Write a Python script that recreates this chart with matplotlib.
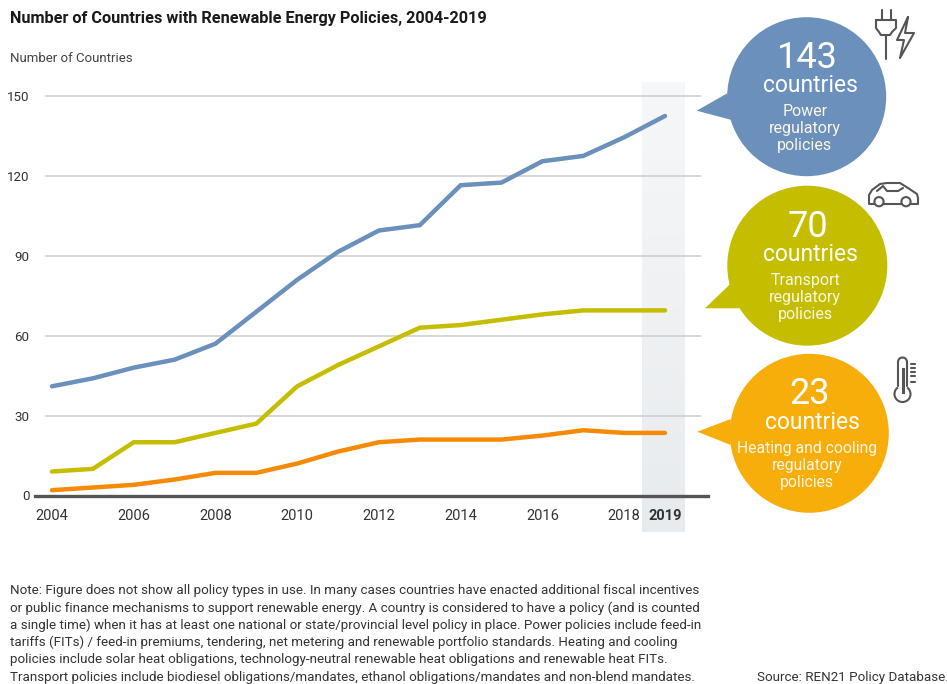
# -*- coding: utf-8 -*-
"""Number of countries with renewable energy policies, 2004-2019"""

import numpy as np
import matplotlib
matplotlib.use("Agg")
import matplotlib.pyplot as plt
from matplotlib.patches import Circle, Polygon, Arc
from matplotlib.transforms import ScaledTranslation

plt.rcParams["font.family"] = ["Roboto", "DejaVu Sans"]

years = list(range(2004, 2020))
power = [41, 44, 48, 51, 57, 69, 81, 91.5, 99.5, 101.5, 116.5, 117.5, 125.5, 127.5, 134.5, 142.5]
transport = [9, 10, 20, 20, 23.5, 27, 41, 49, 56, 63, 64, 66, 68, 69.5, 69.5, 69.5]
heating = [2, 3, 4, 6, 8.5, 8.5, 12, 16.5, 20, 21, 21, 21, 22.5, 24.5, 23.5, 23.5]

y_ticks = [0, 30, 60, 90, 120, 150]
x_ticks = [2004, 2006, 2008, 2010, 2012, 2014, 2016, 2018]

title = "Number of Countries with Renewable Energy Policies, 2004-2019"
y_title = "Number of Countries"
note_lines = [
    "Note: Figure does not show all policy types in use. In many cases countries have enacted additional fiscal incentives",
    "or public finance mechanisms to support renewable energy. A country is considered to have a policy (and is counted",
    "a single time) when it has at least one national or state/provincial level policy in place. Power policies include feed-in",
    "tariffs (FITs) / feed-in premiums, tendering, net metering and renewable portfolio standards. Heating and cooling",
    "policies include solar heat obligations, technology-neutral renewable heat obligations and renewable heat FITs.",
    "Transport policies include biodiesel obligations/mandates, ethanol obligations/mandates and non-blend mandates.",
]
source = "Source: REN21 Policy Database."

BLUE = "#6a90bb"
OLIVE = "#c5bd00"
AMBER = "#f8ae0a"
ORANGE = "#f58a07"
ICON = "#555555"
W, H = 947, 684

fig = plt.figure(figsize=(W / 100, H / 100), dpi=100, facecolor="white")

# ------------------------------------------------------------
# overlay in pixel coordinates for band, bubbles, icons and notes
# ------------------------------------------------------------
bg = fig.add_axes([0, 0, 1, 1], zorder=0)
bg.set_xlim(0, W)
bg.set_ylim(H, 0)
bg.axis("off")

# highlight band for 2019, fading out towards the top
grad = np.linspace(0, 1, 100).reshape(-1, 1)
cmap = matplotlib.colors.LinearSegmentedColormap.from_list("band", ["#f6f7f8", "#e8ebee"])
bg.imshow(grad, extent=[642, 685, 532, 82], cmap=cmap, aspect="auto", zorder=1)
bg.set_xlim(0, W)
bg.set_ylim(H, 0)

# ------------------------------------------------------------
# line chart
# ------------------------------------------------------------
px_l, px_r, px_t, px_b = 35, 708, 82, 495.5
ax = fig.add_axes([px_l / W, 1 - px_b / H, (px_r - px_l) / W, (px_b - px_t) / H], zorder=1)
ax.patch.set_alpha(0)
x_per_px = 15 / (665 - 52)
y_per_px = 150 / (495.5 - 96)
ax.set_xlim(2004 - (52 - px_l) * x_per_px, 2019 + (px_r - 665) * x_per_px)
ax.set_ylim(0, (px_b - px_t) * y_per_px)

for s in ["top", "right", "left"]:
    ax.spines[s].set_visible(False)
ax.spines["bottom"].set_linewidth(2.4)
ax.spines["bottom"].set_color("#555555")

for v in y_ticks[1:]:
    ax.plot([2003.85, 2019.85], [v, v], color="#cfcfcf", lw=1.2, zorder=1)

for series, col in [(power, BLUE), (transport, OLIVE), (heating, ORANGE)]:
    ax.plot(years, series, color=col, lw=3.2, solid_capstyle="round",
            solid_joinstyle="miter", zorder=3, clip_on=False)

ax.set_yticks(y_ticks)
ax.set_xticks(x_ticks + [2019])
ax.set_xticklabels([str(v) for v in x_ticks] + ["2019"], fontsize=10.5, color="#333333")
last = ax.get_xticklabels()[-1]
last.set_fontweight("bold")
last.set_transform(last.get_transform() + ScaledTranslation(5 / 100, 0, fig.dpi_scale_trans))
ax.set_yticklabels([str(v) for v in y_ticks], fontsize=9.6, color="#333333")
ax.tick_params(axis="both", length=0)
ax.tick_params(axis="x", pad=9.5)
ax.tick_params(axis="y", pad=4)

# ------------------------------------------------------------
# speech bubbles
# ------------------------------------------------------------
bubbles = [
    (806.7, 96.7, 79.5, BLUE, [(696.7, 110.7), (727.3, 93.3), (731.7, 120)],
     "143", "Power\nregulatory\npolicies", 11.5),
    (807.3, 265.7, 80, OLIVE, [(705, 308.3), (730, 284.3), (740.7, 308.3)],
     "70", "Transport\nregulatory\npolicies", 11.5),
    (809.3, 433.3, 79.5, AMBER, [(697.3, 431.7), (730.7, 419), (730.7, 445)],
     "23", "Heating and cooling\nregulatory\npolicies", 11.3),
]
for cx, cy, r, col, tail, num, label, lab_size in bubbles:
    bg.add_patch(Circle((cx, cy), r, fc=col, ec="none", zorder=2))
    bg.add_patch(Polygon(tail, closed=True, fc=col, ec="none", zorder=2))
    bg.text(cx + 0.5, cy - 39, num, color="white", fontsize=26,
            ha="center", va="center", zorder=4)
    bg.text(cx + 3.5, cy - 11, "countries", color="white", fontsize=16.5,
            ha="center", va="center", zorder=4)
    bg.text(cx - 2, cy + 32, label, color="#fbf6e6", fontsize=lab_size, ha="center", va="center",
            linespacing=1.18, zorder=4)

# ------------------------------------------------------------
# icons
# ------------------------------------------------------------
ik = dict(color=ICON, lw=1.5, zorder=4, solid_capstyle="round", solid_joinstyle="round")
# plug
bg.plot([881.5, 881.5], [10, 20], **ik)
bg.plot([890.5, 890.5], [10, 20], **ik)
bg.plot([876, 896, 896, 892, 890, 881, 879, 876, 876],
        [20, 20, 28, 32, 35, 35, 32, 28, 20], **ik)
bg.plot([885.7, 885.7], [35, 59], **ik)
# bolt
bg.plot([908, 897, 904, 900, 914, 905, 908],
        [17, 40, 40, 58, 33, 33, 17], **ik)
# car
bg.plot([869, 869, 872, 880, 887, 900, 908, 917, 918, 918, 869],
        [203, 195, 190, 184, 183, 183, 188, 194, 198, 204, 204],
        **ik)
bg.plot([877, 883, 887, 898, 903], [191, 186, 191, 191, 188], **ik)
for cx in (879, 906):
    bg.add_patch(Circle((cx, 201.7), 4.6, fc="white", ec=ICON, lw=1.5, zorder=5))
# thermometer
bg.plot([898, 898], [386, 362], **ik)
bg.plot([907, 907], [386, 362], **ik)
bg.add_patch(Arc((902.5, 362), 9, 9, theta1=180, theta2=360, color=ICON, lw=1.5, zorder=4))
bg.add_patch(Arc((902.5, 394), 16, 16, angle=-90, theta1=35, theta2=325, color=ICON, lw=1.5, zorder=4))
bg.plot([902.5, 902.5], [369, 392], color=ICON, lw=2.2, zorder=4)
for ty in (364, 368, 372, 376, 382):
    bg.plot([911, 915], [ty, ty], **ik)

# ------------------------------------------------------------
# texts
# ------------------------------------------------------------
bg.text(10, 18.5, title, fontsize=11.7, fontweight="bold", va="center", ha="left",
        color="#1a1a1a", zorder=4)
bg.text(10, 58.5, y_title, fontsize=9.5, color="#444444", va="center", ha="left", zorder=4)
for i, line in enumerate(note_lines):
    bg.text(10, 590.5 + i * 17.3, line, fontsize=9.62, color="#333333", va="center", ha="left", zorder=4)
bg.text(757, 677, source, fontsize=9.6, color="#333333", va="center", ha="left", zorder=4)

fig.savefig("out.png", dpi=100)
